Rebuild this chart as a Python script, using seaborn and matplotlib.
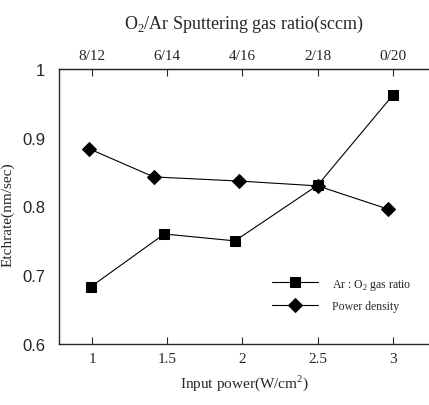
import matplotlib
matplotlib.use("Agg")
import matplotlib.pyplot as plt
import seaborn as sns
import pandas as pd

# Data
power_x = [0.98, 1.41, 1.98, 2.50, 2.97]
power_y = [0.884, 0.843, 0.837, 0.830, 0.796]
ratio_x = [0.99, 1.48, 1.95, 2.50, 3.00]
ratio_y = [0.683, 0.760, 0.750, 0.831, 0.962]
bottom_ticks = [1, 1.5, 2, 2.5, 3]
bottom_labels = ["1", "1.5", "2", "2.5", "3"]
top_labels = ["8/12", "6/14", "4/16", "2/18", "0/20"]
y_ticks = [0.6, 0.7, 0.8, 0.9, 1.0]
y_labels = ["0.6", "0.7", "0.8", "0.9", "1"]

sns.set_style("ticks")
plt.rcParams['font.family'] = ['Liberation Serif', 'DejaVu Serif']
plt.rcParams['mathtext.fontset'] = 'custom'
plt.rcParams['mathtext.rm'] = 'Liberation Serif'

fig = plt.figure(figsize=(4.29, 4.06), dpi=100)
ax = fig.add_axes([59/429, 1 - 345/406, 1 - 59/429, (345 - 70)/406])

df_ratio = pd.DataFrame({"x": ratio_x, "y": ratio_y})
df_power = pd.DataFrame({"x": power_x, "y": power_y})

sns.lineplot(data=df_ratio, x="x", y="y", ax=ax, color="black", marker="s",
             markersize=7.5, linewidth=0.8, markeredgecolor="black",
             label=r"Ar : O$_2$ gas ratio", sort=False)
sns.lineplot(data=df_power, x="x", y="y", ax=ax, color="black", marker="D",
             markersize=7.5, linewidth=0.8, markeredgecolor="black",
             label="Power density", sort=False)

ax.set_xlim(0.78, 3.24)
ax.set_ylim(0.6, 1.0)
ax.set_xticks(bottom_ticks)
ax.set_xticklabels(bottom_labels, fontsize=11)
ax.set_yticks(y_ticks)
ax.set_yticklabels(y_labels, fontsize=12, family=['Liberation Sans'])
ax.tick_params(axis='x', direction='in', length=5, width=0.8, pad=6)
ax.tick_params(axis='y', length=0, pad=10)
ax.spines['right'].set_visible(False)
for s in ['left', 'bottom', 'top']:
    ax.spines[s].set_linewidth(1.0)

ax.set_xlabel(r"Input power(W/cm$^2$)", fontsize=11, labelpad=5)
ax.set_ylabel("Etchrate(nm/sec)", fontsize=11)
ax.yaxis.set_label_coords(-0.119, 0.473)

top = ax.secondary_xaxis('top')
top.set_xticks(bottom_ticks)
top.set_xticklabels(top_labels, fontsize=11)
top.tick_params(direction='in', length=5, width=0.8, pad=5)
top.set_xlabel(r"O$_2$/Ar Sputtering gas ratio(sccm)", fontsize=13, labelpad=15)

leg = ax.legend(loc='upper left', bbox_to_anchor=(0.576, 0.245), frameon=False,
                fontsize=8.5, handlelength=3.9, handletextpad=1.2,
                labelspacing=0.7, borderaxespad=0, borderpad=0)

fig.savefig("out.png", dpi=100)
